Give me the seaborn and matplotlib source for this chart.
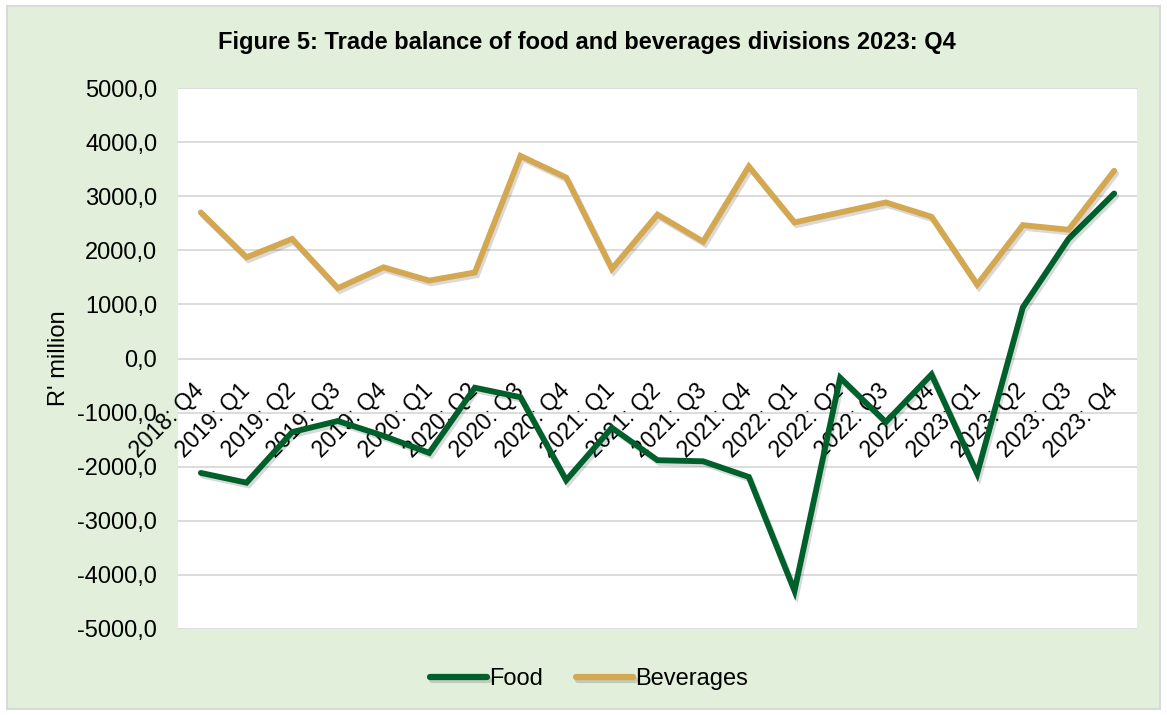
import pandas as pd
import matplotlib
matplotlib.use("Agg")
import matplotlib.pyplot as plt
import matplotlib.patheffects as pe
from matplotlib.patches import Rectangle
from matplotlib.ticker import FuncFormatter
import seaborn as sns

# Quarter labels and trade balance values (R' million)
quarters = ["2018: Q4", "2019: Q1", "2019: Q2", "2019: Q3", "2019: Q4",
            "2020: Q1", "2020: Q2", "2020: Q3", "2020: Q4", "2021: Q1",
            "2021: Q2", "2021: Q3", "2021: Q4", "2022: Q1", "2022: Q2",
            "2022: Q3", "2022: Q4", "2023: Q1", "2023: Q2", "2023: Q3",
            "2023: Q4"]
food = [-2115, -2295, -1360, -1155, -1430, -1745, -540, -715, -2250, -1280,
        -1880, -1900, -2190, -4295, -356, -1175, -295, -2130, 945, 2210, 3050]
beverages = [2700, 1870, 2210, 1300, 1685, 1440, 1590, 3745, 3345, 1655,
             2660, 2160, 3550, 2515, 2700, 2885, 2620, 1365, 2465, 2380, 3470]

series_colors = {"Food": "#00602B", "Beverages": "#D4A850"}

# Long format for seaborn
df = pd.DataFrame({
    "pos": list(range(len(quarters))) * 2,
    "value": food + beverages,
    "series": ["Food"] * len(food) + ["Beverages"] * len(beverages),
})

plt.rcParams["font.family"] = ["Liberation Sans", "DejaVu Sans"]

fig = plt.figure(figsize=(11.67, 7.15), dpi=100, facecolor="white")
# Light green chart area with a grey border
fig.patches.append(Rectangle((7 / 1167, 1 - 709 / 715), 1153 / 1167, 703 / 715,
                             transform=fig.transFigure, facecolor="#E2EFDA",
                             edgecolor="#D9D9D9", linewidth=1.5, zorder=-1))

ax = fig.add_axes([178 / 1167, 1 - 629 / 715, (1137 - 178) / 1167, (629 - 88) / 715])
ax.set_facecolor("white")

sns.lineplot(data=df, x="pos", y="value", hue="series", palette=series_colors,
             linewidth=4.2, ax=ax, legend=True)

for line in ax.get_lines():
    line.set_solid_capstyle("round")
    line.set_solid_joinstyle("miter")
    line.set_path_effects([pe.SimpleLineShadow(offset=(1.5, -2), alpha=0.15, shadow_color="black"),
                           pe.Normal()])

# Category axis sits at zero, like the original (set before tick styling)
ax.spines["bottom"].set_position(("data", 0))
for s in ["top", "right", "left", "bottom"]:
    ax.spines[s].set_visible(False)

# Axes limits and ticks
ax.set_xlim(-0.5, len(quarters) - 0.5)
ax.set_ylim(-5000, 5000)
ax.set_yticks(range(-5000, 5001, 1000))
ax.yaxis.set_major_formatter(FuncFormatter(lambda v, p: f"{v:.1f}".replace(".", ",")))
ax.set_xticks(range(len(quarters)))
ax.set_xticklabels(quarters, rotation=45, ha="right", va="center", rotation_mode="anchor")

ax.tick_params(axis="x", length=0, pad=21, labelsize=16.5)
ax.tick_params(axis="y", length=0, pad=15, labelsize=17)
ax.grid(axis="y", color="#D9D9D9", linewidth=1.3)
ax.grid(axis="x", visible=False)
ax.set_axisbelow(True)

ax.set_xlabel("")
ax.set_ylabel("R' million", fontsize=17, labelpad=5)

# Title
fig.text(0.503, 0.941, "Figure 5: Trade balance of food and beverages divisions 2023: Q4",
         ha="center", va="center", fontsize=17, fontweight="bold")

# Legend at the bottom
handles, labels = ax.get_legend_handles_labels()
ax.get_legend().remove()
for h in handles:
    h.set_linewidth(4.5)
    h.set_solid_capstyle("round")
fig.legend(handles, labels, loc="center", bbox_to_anchor=(0.505, 0.05), ncol=2,
           frameon=False, fontsize=17, handlelength=2.4, handletextpad=0.1,
           columnspacing=1.4)

fig.savefig("out.png", dpi=100, facecolor=fig.get_facecolor())
